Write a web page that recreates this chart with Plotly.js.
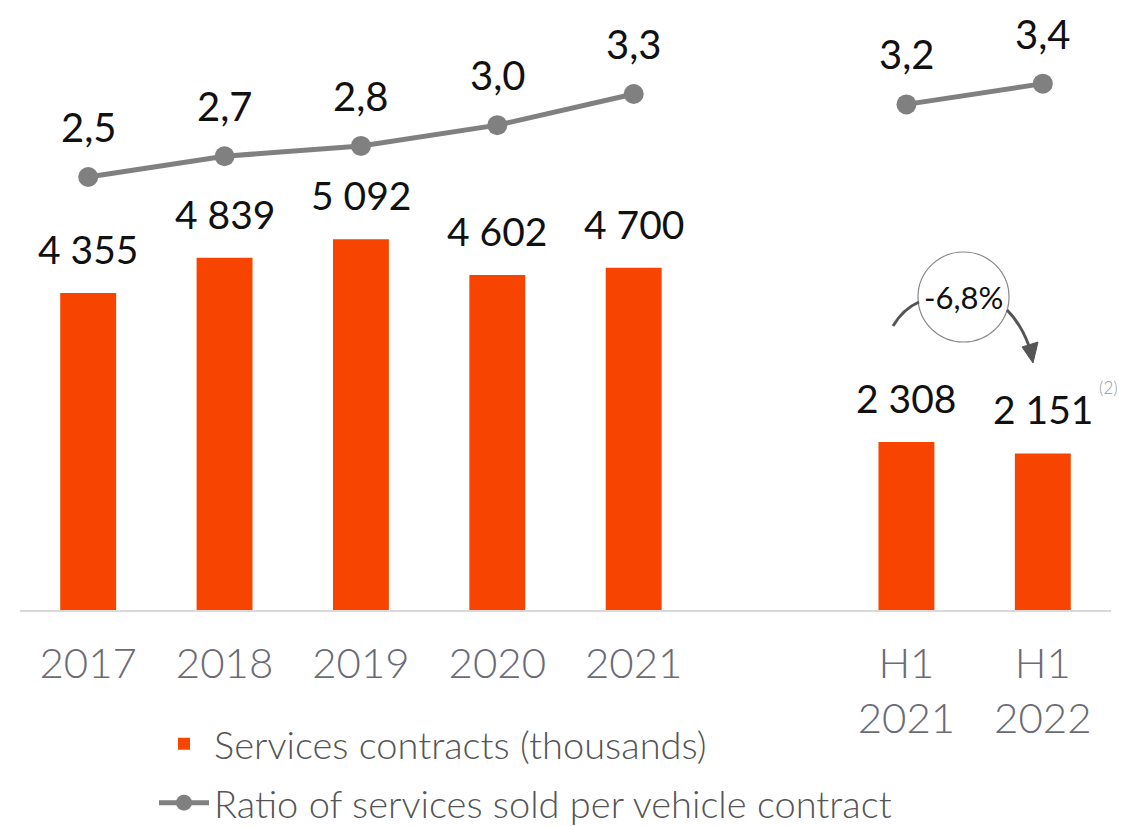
<!DOCTYPE html>
<html>
<head>
<meta charset="utf-8">
<script src="https://cdn.plot.ly/plotly-3.0.1.min.js"></script>
<style>
  html, body { margin: 0; padding: 0; background: #fff; }
  #plot { width: 1140px; height: 826px; }
</style>
</head>
<body>
<div id="plot"></div>
<script>
// categories (blank slot separates full years from half years)
var periods = ["2017", "2018", "2019", "2020", "2021", " ", "H1<br>2021", "H1<br>2022"];
var contracts = [4355, 4839, 5092, 4602, 4700, null, 2308, 2151];
var ratio = [2.5, 2.7, 2.8, 3.0, 3.3, null, 3.2, 3.4];

var FONT = "Lato, 'Open Sans', sans-serif";

// bars
var trace1 = {
  x: periods,
  y: contracts,
  type: "bar",
  name: "Services contracts (thousands)",
  width: 0.41,
  marker: { color: "#f74400" },
  legend: "legend",
  hoverinfo: "skip"
};

// ratio line
var trace2 = {
  x: periods,
  y: ratio,
  yaxis: "y2",
  type: "scatter",
  mode: "lines+markers",
  name: "Ratio of services sold per vehicle contract",
  connectgaps: false,
  line: { color: "#808080", width: 5 },
  marker: { color: "#808080", size: 20 },
  legend: "legend2",
  hoverinfo: "skip"
};

var data = [trace1, trace2];

// value labels built from the arrays (x given as category index)
var annotations = [];
periods.forEach(function (p, i) {
  if (contracts[i] !== null) {
    annotations.push({
      x: i, y: contracts[i], xref: "x", yref: "y",
      text: contracts[i].toLocaleString("en-US").replace(",", " "),
      showarrow: false, xanchor: "center", yanchor: "bottom", yshift: 19,
      font: { family: FONT, size: 39, color: "#111" }
    });
  }
  if (ratio[i] !== null) {
    annotations.push({
      x: i, y: ratio[i], xref: "x", yref: "y2",
      text: ratio[i].toFixed(1).replace(".", ","),
      showarrow: false, xanchor: "center", yanchor: "bottom", yshift: 24,
      font: { family: FONT, size: 40, color: "#111" }
    });
  }
});

// pixel helpers for the decorative change marker
var L = 20, T = 0, W = 1091, H = 610;
function px(v) { return (v - L) / W; }
function py(v) { return 1 - (v - T) / H; }

annotations.push({
  xref: "paper", yref: "paper", x: px(963), y: py(297),
  xanchor: "center", yanchor: "middle",
  text: "-6,8%", showarrow: false,
  font: { family: FONT, size: 31, color: "#111" }
});
annotations.push({
  xref: "paper", yref: "paper", x: px(1108), y: py(387),
  xanchor: "center", yanchor: "middle",
  text: "(2)", showarrow: false,
  font: { family: FONT, size: 17, color: "#999", weight: 300 }
});

function P(x, y) { return px(x) + "," + py(y); }

var shapes = [
  { type: "circle", xref: "paper", yref: "paper",
    x0: px(918), x1: px(1009), y0: py(252), y1: py(342),
    line: { color: "#888", width: 1.2 } },
  { type: "path", xref: "paper", yref: "paper",
    path: "M" + P(893, 326) + " Q" + P(903, 309) + " " + P(919, 302),
    line: { color: "#555", width: 3 } },
  { type: "path", xref: "paper", yref: "paper",
    path: "M" + P(1007, 310) + " Q" + P(1021, 324) + " " + P(1029, 346),
    line: { color: "#555", width: 3 } },
  { type: "path", xref: "paper", yref: "paper",
    path: "M" + P(1022, 347) + " L" + P(1038, 342) + " L" + P(1033, 363) + " Z",
    fillcolor: "#555", line: { color: "#555", width: 1 } }
];

var layout = {
  width: 1140,
  height: 826,
  margin: { l: L, r: 1140 - L - W, t: T, b: 826 - H, autoexpand: false },
  paper_bgcolor: "#fff",
  plot_bgcolor: "#fff",
  showlegend: true,
  xaxis: {
    type: "category",
    categoryorder: "array",
    categoryarray: periods,
    range: [-0.5, 7.5],
    showline: true,
    linecolor: "#d9d9d9",
    linewidth: 2,
    showgrid: false,
    zeroline: false,
    ticks: "",
    ticklabelstandoff: 16,
    tickfont: { family: FONT, size: 42, color: "#6b6b75", weight: 300 }
  },
  yaxis: {
    range: [0, 8379],
    visible: false,
    fixedrange: true
  },
  yaxis2: {
    range: [-1.673, 4.206],
    overlaying: "y",
    visible: false,
    fixedrange: true
  },
  legend: {
    x: px(154), y: py(744), xref: "paper", yref: "paper",
    xanchor: "left", yanchor: "middle",
    font: { family: FONT, size: 38, color: "#555", weight: 300 },
    itemwidth: 50
  },
  legend2: {
    x: px(154), y: py(803), xref: "paper", yref: "paper",
    xanchor: "left", yanchor: "middle",
    font: { family: FONT, size: 38, color: "#555", weight: 300 },
    itemwidth: 50
  },
  annotations: annotations,
  shapes: shapes
};

Plotly.newPlot("plot", data, layout, { staticPlot: true, displayModeBar: false });
</script>
</body>
</html>
